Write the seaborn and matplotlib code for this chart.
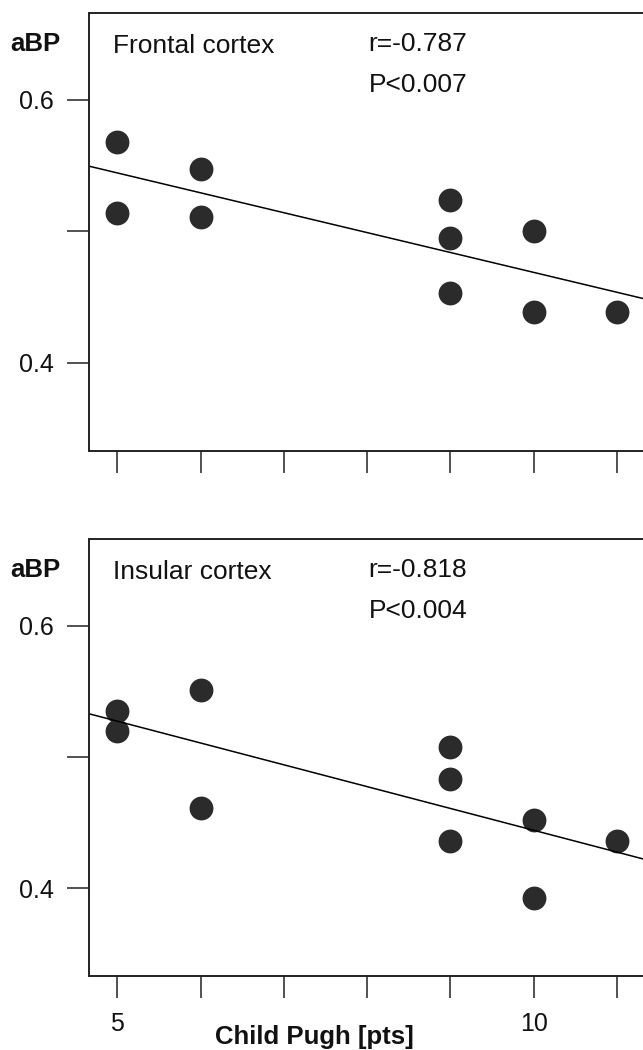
import seaborn as sns
import matplotlib
matplotlib.use("Agg")
import matplotlib.pyplot as plt
import pandas as pd

# Child Pugh score per patient (same for both regions)
child_pugh = [5, 5, 6, 6, 9, 9, 9, 10, 10, 11]
frontal_abp = [0.568, 0.514, 0.547, 0.511, 0.524, 0.495, 0.453, 0.500, 0.439, 0.439]
insular_abp = [0.535, 0.520, 0.551, 0.461, 0.508, 0.483, 0.436, 0.452, 0.393, 0.436]

panels = [
    ("Frontal cortex", frontal_abp, "r=-0.787", "P<0.007"),
    ("Insular cortex", insular_abp, "r=-0.818", "P<0.004"),
]
x_ticks = [5, 6, 7, 8, 9, 10, 11]
x_ticklabels = ["5", "", "", "", "", "10", ""]
y_ticks = [0.4, 0.5, 0.6]
y_ticklabels = ["0.4", "", "0.6"]

sns.set_theme(style="ticks")
plt.rcParams["font.family"] = ["Liberation Sans", "DejaVu Sans"]

fig = plt.figure(figsize=(6.43, 10.5), dpi=100)
# axes run past the right edge like in the cropped original
ax_top = fig.add_axes([0.1389, 0.5708, 0.8642, 0.4171])
ax_bot = fig.add_axes([0.1389, 0.0705, 0.8642, 0.4162])

dot_color = "#2b2b2b"
for ax, (region, abp, r_txt, p_txt) in zip([ax_top, ax_bot], panels):
    df = pd.DataFrame({"child_pugh": child_pugh, "abp": abp})
    ax.set_xlim(4.664, 11.336)
    ax.set_ylim(0.3334, 0.666)
    sns.regplot(data=df, x="child_pugh", y="abp", ax=ax, ci=None, truncate=False,
                scatter_kws={"s": 295, "color": dot_color, "linewidths": 0, "alpha": 1},
                line_kws={"color": "black", "linewidth": 1.1})
    ax.set_xlim(4.664, 11.336)
    ax.set_ylim(0.3334, 0.666)

    ax.set_xticks(x_ticks)
    ax.set_yticks(y_ticks)
    ax.set_yticklabels(y_ticklabels)
    ax.tick_params(direction="out", length=15.8, width=1.1, color="#222222",
                   labelsize=18, labelcolor="#111111")
    ax.tick_params(axis="y", pad=9.5)
    ax.tick_params(axis="x", pad=10)
    for sp in ax.spines.values():
        sp.set_linewidth(1.4)
        sp.set_color("#222222")
        sp.set_visible(True)
    ax.set_ylabel("")
    ax.set_xlabel("")

    ax.text(0.0427, 0.9075, region, transform=ax.transAxes, fontsize=19,
            ha="left", va="baseline", color="#111111")
    ax.text(0.5024, 0.9132, r_txt, transform=ax.transAxes, fontsize=19,
            ha="left", va="baseline", color="#111111")
    ax.text(0.5024, 0.8185, p_txt, transform=ax.transAxes, fontsize=19,
            ha="left", va="baseline", color="#111111")
    ax.text(-0.1427, 0.913, "aBP", transform=ax.transAxes, fontsize=18.5,
            fontweight="bold", ha="left", va="baseline", color="#111111")

ax_top.set_xticklabels([])
ax_bot.set_xticklabels(x_ticklabels)

ax_bot.set_xlabel("Child Pugh [pts]", fontsize=18.5, fontweight="bold", color="#111111")
ax_bot.xaxis.set_label_coords(0.2262, -0.1563)
ax_bot.xaxis.label.set_ha("left")
ax_bot.xaxis.label.set_va("baseline")

fig.savefig("out.png", dpi=100, facecolor="white")
